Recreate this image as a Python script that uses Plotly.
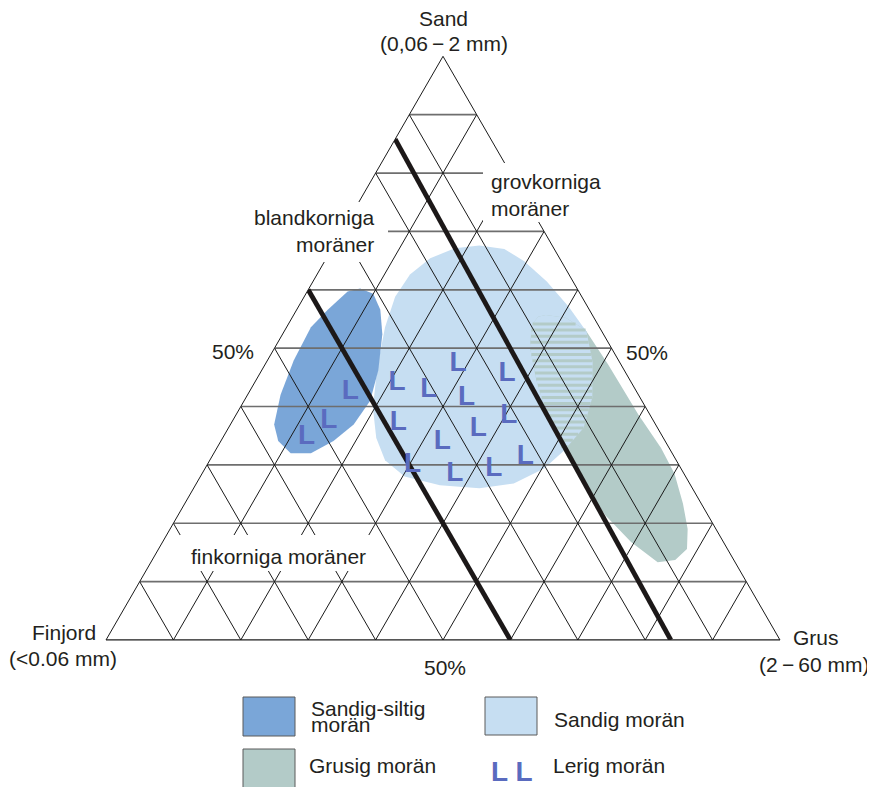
import plotly.graph_objects as go

W, H = 875, 787
OX, OY = 8, 8            # the page body adds an 8 px margin around the figure
FW, FH = W - OX, H - OY  # figure size that fills the rest of the window

# ---------------- data (ternary compositions, percent) ----------------
# Each region outline: Sand % and Grus %; Finjord = 100 - Sand - Grus
siltig_sand = [60.2, 59.3, 56.6, 52.4, 46.2, 41.0, 36.9, 34.1, 32.0, 32.0, 34.1, 36.9, 42.0, 47.9, 53.6, 56.6, 59.7]
siltig_grus = [7.6, 10.0, 12.4, 14.8, 17.3, 18.7, 18.3, 16.7, 14.4, 11.4, 8.5, 6.5, 4.9, 3.9, 3.6, 4.6, 6.0]

sandig_sand = [67.6, 67.1, 65.4, 62.6, 58.8, 53.6, 46.7, 39.8, 34.6, 30.8, 28.0, 26.5,
               26.0, 26.8, 29.4, 32.4, 36.3, 41.5, 47.6, 52.8, 57.1, 61.4, 64.9, 67.0]
sandig_grus = [21.6, 18.2, 15.4, 13.8, 13.5, 14.6, 16.9, 19.7, 22.8, 26.0, 30.3, 36.3,
               42.4, 47.1, 50.3, 51.7, 52.7, 51.4, 48.4, 44.9, 40.1, 34.7, 29.6, 25.6]

grusig_sand = [55.7, 55.2, 53.1, 47.2, 38.6, 32.9, 28.5, 23.4, 19.0, 15.6, 13.7, 13.3,
               16.8, 21.3, 27.2, 32.9, 38.9, 44.5, 50.2, 54.0, 55.4]
grusig_grus = [37.4, 40.6, 44.6, 50.9, 59.7, 65.9, 70.1, 73.9, 76.8, 78.4, 77.6, 75.2,
               69.5, 63.5, 57.0, 51.2, 45.9, 41.6, 37.8, 36.2, 36.4]

# "L" symbols (Lerig morän)
lerig_sand = [47.3, 45.6, 44.0, 42.8, 41.4, 38.3, 37.1, 36.1, 34.0, 31.4, 30.0, 28.5, 29.3,
              42.5, 37.5, 34.7]
lerig_grus = [28.6, 36.7, 21.2, 26.5, 32.8, 40.6, 24.8, 37.2, 32.9, 46.5, 30.5, 37.5, 42.9,
              15.0, 14.3, 12.4]

# Boundary lines between moraine classes (Sand %, Grus %)
fin_sand = [60.0, 0.0]
fin_grus = [0.0, 60.0]
grov_sand = [85.8, 0.0]
grov_grus = [0.0, 83.8]

grid_ticks = [10, 20, 30, 40, 50, 60, 70, 80, 90]

C_SILTIG = '#7aa6d8'
C_SANDIG = '#c6def2'
C_GRUSIG = '#b3cbc8'
C_L = '#5a6bbf'
TXT = '#231f20'
FONT = 'Liberation Sans, Arial, sans-serif'


def finjord(sand, grus):
    return [None if s is None else 100 - s - g for s, g in zip(sand, grus)]


def closed(lst):
    return list(lst) + [lst[0]]


fig = go.Figure()


def region(sand, grus, color):
    s, g = closed(sand), closed(grus)
    fig.add_trace(go.Scatterternary(
        a=s, c=g, b=finjord(s, g), mode='lines', fill='toself',
        fillcolor=color, line=dict(width=0, color=color), hoverinfo='skip'))


region(sandig_sand, sandig_grus, C_SANDIG)
region(grusig_sand, grusig_grus, C_GRUSIG)
region(siltig_sand, siltig_grus, C_SILTIG)

# overlap of Grusig (ellipse) and Sandig: light blue with grey stripes
ov_sand = grusig_sand[0:3] + sandig_sand[19:14:-1] + grusig_sand[15:21]
ov_grus = grusig_grus[0:3] + sandig_grus[19:14:-1] + grusig_grus[15:21]
region(ov_sand, ov_grus, C_SANDIG)

ps, pg = closed(ov_sand), closed(ov_grus)
st_a, st_c = [], []
lvl = max(ov_sand) - 0.5
while lvl > min(ov_sand):
    cs = []
    for i in range(len(ps) - 1):
        a1, a2 = ps[i], ps[i + 1]
        if (a1 - lvl) * (a2 - lvl) < 0:
            t = (lvl - a1) / (a2 - a1)
            cs.append(pg[i] + t * (pg[i + 1] - pg[i]))
    if len(cs) >= 2:
        st_a += [lvl, lvl, None]
        st_c += [min(cs), max(cs), None]
    lvl -= 1.05
fig.add_trace(go.Scatterternary(
    a=st_a, c=st_c, b=finjord(st_a, st_c), mode='lines',
    line=dict(color=C_GRUSIG, width=3), hoverinfo='skip', connectgaps=False))

# grid
ha, hb, hc = [], [], []
for v in [0] + grid_ticks:
    ha += [v, v, None]; hb += [100 - v, 0, None]; hc += [0, 100 - v, None]
fig.add_trace(go.Scatterternary(a=ha, b=hb, c=hc, mode='lines',
                                line=dict(color='#6e6e6e', width=1.7), hoverinfo='skip'))
da, db, dc = [], [], []
for v in grid_ticks:
    da += [100 - v, 0, None]; db += [v, v, None]; dc += [0, 100 - v, None]
    da += [100 - v, 0, None]; db += [0, 100 - v, None]; dc += [v, v, None]
fig.add_trace(go.Scatterternary(a=da, b=db, c=dc, mode='lines',
                                line=dict(color='#1a1a1a', width=1), hoverinfo='skip'))

# class boundaries
for s, g in [(fin_sand, fin_grus), (grov_sand, grov_grus)]:
    fig.add_trace(go.Scatterternary(a=s, c=g, b=finjord(s, g), mode='lines',
                                    line=dict(color='#1c1818', width=4.8), hoverinfo='skip'))

# L symbols
fig.add_trace(go.Scatterternary(
    a=lerig_sand, c=lerig_grus, b=finjord(lerig_sand, lerig_grus), mode='text',
    text=['L'] * len(lerig_sand), textposition='middle center',
    textfont=dict(family=FONT, size=28, color=C_L, weight='bold'), hoverinfo='skip'))


def px(x):
    return (x - OX) / FW


def py(y):
    return 1 - (y - OY) / FH


axis_common = dict(showgrid=False, showticklabels=False, ticks='', title=dict(text=''),
                   linecolor='#1a1a1a', linewidth=1)

fig.update_layout(
    width=FW, height=FH, margin=dict(l=0, r=0, t=0, b=0),
    paper_bgcolor='white', showlegend=False,
    ternary=dict(
        sum=100, bgcolor='white',
        domain=dict(x=[px(106), px(780)], y=[py(640), py(56.3)]),
        aaxis=dict(**axis_common),
        baxis=dict(**axis_common),
        caxis=dict(**axis_common),
    ),
)

# white cut-outs behind the class labels
for x0, y0, x1, y1 in [(483, 163, 592, 222), (248, 202, 388, 262), (180, 535, 378, 571)]:
    fig.add_shape(type='rect', xref='paper', yref='paper', layer='above',
                  x0=px(x0), x1=px(x1), y0=py(y1), y1=py(y0),
                  fillcolor='white', line=dict(width=0))

# legend swatches
for x0, y0, x1, y1, col in [(243, 697, 295, 736, C_SILTIG), (485, 697, 537, 735, C_SANDIG),
                            (243, 749, 295, 800, C_GRUSIG)]:
    fig.add_shape(type='rect', xref='paper', yref='paper', layer='above',
                  x0=px(x0), x1=px(x1), y0=py(y1), y1=py(y0),
                  fillcolor=col, line=dict(color='#5a5a5a', width=1))


def ann(text, x, y, xanchor='center', size=21, color=TXT, align='center', weight='normal'):
    fig.add_annotation(text=text, x=px(x), y=py(y), xref='paper', yref='paper',
                       xanchor=xanchor, yanchor='middle', showarrow=False, align=align,
                       font=dict(family=FONT, size=size, color=color, weight=weight))


ann('Sand', 443, 18.5)
ann('(0,06\u2009\u2212\u20092 mm)', 444, 43.5)
ann('Finjord', 64.5, 632)
ann('(<0.06 mm)', 63, 658)
ann('Grus', 816, 637)
ann('(2\u2009\u2212\u200960 mm)', 814, 664)
ann('50%', 233, 351)
ann('50%', 647, 352)
ann('50%', 445, 667)
ann('grovkorniga<br>moräner', 489, 195, xanchor='left', align='left')
ann('blandkorniga<br>moräner', 377, 231, xanchor='right', align='right')
ann('finkorniga moräner', 278, 556)

ann('Sandig-siltig', 309, 708, xanchor='left')
ann('morän', 309, 724, xanchor='left')
ann('Sandig morän', 552, 719, xanchor='left')
ann('Grusig morän', 307, 765, xanchor='left')
ann('Lerig morän', 551, 765, xanchor='left')
ann('L L', 511, 771, size=28, color=C_L, weight='bold')

fig.write_html('out.html', config={'displayModeBar': False})
